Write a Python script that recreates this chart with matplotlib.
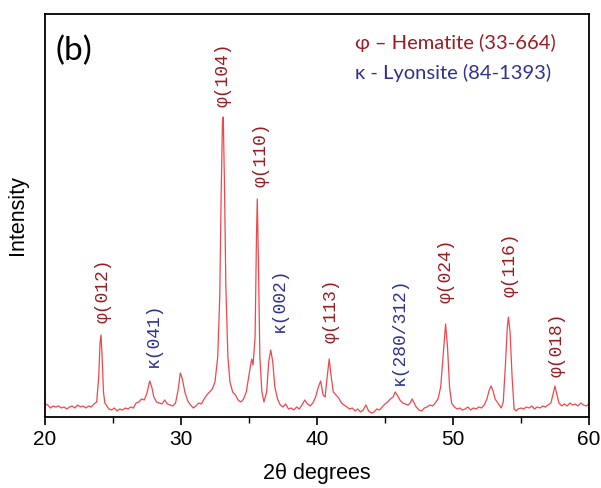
import matplotlib.pyplot as plt
from matplotlib.ticker import MultipleLocator

# XRD pattern (2theta in degrees, intensity in arbitrary units)
two_theta = [20.0, 20.2, 20.4, 20.6, 20.8, 21.0, 21.2, 21.4, 21.6, 21.8,
             22.0, 22.2, 22.4, 22.6, 22.8, 23.0, 23.2, 23.4, 23.6, 23.8,
             23.95, 24.05, 24.12, 24.2, 24.3, 24.4, 24.5, 24.7, 24.9, 25.1,
             25.3, 25.5, 25.7, 25.9, 26.1, 26.3, 26.5, 26.7, 26.9, 27.1,
             27.3, 27.5, 27.7, 27.85, 28.0, 28.2, 28.4, 28.6, 28.8, 29.0,
             29.2, 29.4, 29.6, 29.8, 29.95, 30.1, 30.3, 30.5, 30.7, 30.9,
             31.1, 31.3, 31.5, 31.7, 31.9, 32.1, 32.3, 32.5, 32.7, 32.85,
             32.95, 33.05, 33.11, 33.2, 33.3, 33.45, 33.6, 33.8, 34.0, 34.2,
             34.4, 34.6, 34.8, 35.0, 35.2, 35.3, 35.45, 35.55, 35.61, 35.7,
             35.8, 35.95, 36.1, 36.3, 36.45, 36.6, 36.75, 36.9, 37.1, 37.3,
             37.5, 37.7, 37.9, 38.1, 38.3, 38.5, 38.7, 38.9, 39.1, 39.3,
             39.5, 39.7, 39.9, 40.1, 40.27, 40.45, 40.6, 40.75, 40.9, 41.05,
             41.2, 41.4, 41.6, 41.8, 42.0, 42.2, 42.4, 42.6, 42.8, 43.0,
             43.2, 43.4, 43.6, 43.8, 44.0, 44.2, 44.4, 44.6, 44.8, 45.0,
             45.2, 45.4, 45.6, 45.75, 45.9, 46.1, 46.3, 46.5, 46.7, 46.85,
             47.0, 47.15, 47.3, 47.5, 47.7, 47.9, 48.1, 48.3, 48.5, 48.7,
             48.9, 49.1, 49.3, 49.46, 49.6, 49.75, 49.9, 50.1, 50.3, 50.5,
             50.7, 50.9, 51.1, 51.3, 51.5, 51.7, 51.9, 52.1, 52.3, 52.5,
             52.65, 52.8, 52.95, 53.1, 53.25, 53.4, 53.55, 53.7, 53.85, 54.0,
             54.08, 54.2, 54.35, 54.5, 54.65, 54.8, 55.0, 55.2, 55.4, 55.6,
             55.8, 56.0, 56.2, 56.4, 56.6, 56.8, 57.0, 57.2, 57.35, 57.5,
             57.65, 57.8, 58.0, 58.2, 58.4, 58.6, 58.8, 59.0, 59.2, 59.4,
             59.6, 59.8, 60.0]
intensity = [13, 12, 9, 11, 10, 11, 9, 10, 8, 10,
             11, 9, 12, 10, 11, 9, 11, 10, 13, 15,
             40, 75, 82, 60, 25, 14, 12, 8, 7, 9,
             6, 8, 7, 9, 8, 10, 9, 14, 15, 18,
             17, 24, 36, 30, 20, 15, 14, 13, 17, 13,
             12, 11, 14, 28, 44, 38, 24, 16, 12, 9,
             11, 14, 13, 18, 22, 25, 28, 35, 60, 120,
             220, 295, 300, 230, 130, 60, 35, 25, 22, 17,
             15, 18, 25, 42, 58, 52, 80, 180, 218, 150,
             60, 25, 15, 25, 55, 67, 55, 30, 18, 12,
             10, 13, 8, 9, 7, 10, 8, 12, 17, 13,
             11, 14, 20, 30, 36, 22, 20, 40, 58, 40,
             25, 22, 19, 14, 12, 10, 8, 9, 6, 8,
             5, 7, 12, 6, 4, 5, 8, 7, 10, 13,
             15, 18, 20, 25, 22, 17, 14, 13, 12, 14,
             18, 14, 10, 7, 6, 9, 10, 12, 11, 14,
             18, 30, 65, 93, 70, 30, 14, 10, 8, 9,
             7, 8, 10, 7, 9, 8, 10, 9, 12, 18,
             26, 31, 26, 18, 15, 12, 9, 15, 50, 90,
             100, 85, 40, 8, 6, 8, 9, 8, 10, 9,
             11, 8, 10, 9, 11, 10, 12, 14, 22, 31,
             22, 14, 11, 13, 11, 14, 12, 13, 11, 14,
             12, 11, 13]

# peak labels: text, position (2theta, bottom of text), phase
peak_labels = ["φ(012)", "κ(041)", "φ(104)", "φ(110)", "κ(002)",
               "φ(113)", "κ(280/312)", "φ(024)", "φ(116)", "φ(018)"]
label_x = [24.3, 27.95, 33.1, 35.85, 37.2, 41.06, 46.07, 49.5, 54.16, 57.68]
label_y = [94, 50, 310, 230, 85, 74, 32, 114, 120, 40]
label_phase = ["h", "l", "h", "h", "l", "h", "l", "h", "h", "h"]

red_txt = "#9a1c22"
blue_txt = "#2e3192"

fig = plt.figure(figsize=(6.01, 4.88), dpi=100)
ax = fig.add_axes([0.0749, 0.1455, 0.905, 0.826])

ax.plot(two_theta, intensity, color="#f0474c", linewidth=0.9)

for txt, x, y, ph in zip(peak_labels, label_x, label_y, label_phase):
    col = red_txt if ph == "h" else blue_txt
    ax.text(x, y, txt, rotation=90, ha="center", va="bottom", color=col,
            fontsize=13, family=["Liberation Mono", "DejaVu Sans Mono"])

#phase key
ax.text(42.8, 374, "φ – Hematite (33-664)", color=red_txt, fontsize=14.5,
        ha="left", va="center", family=["Lato", "DejaVu Sans"])
ax.text(42.8, 344, "κ - Lyonsite (84-1393)", color=blue_txt, fontsize=14.5,
        ha="left", va="center", family=["Lato", "DejaVu Sans"])

ax.text(0.053, 0.908, "(b)", transform=ax.transAxes, fontsize=24,
        ha="center", va="center", family=["Lato", "DejaVu Sans"])

ax.set_xlim(20, 60)
ax.set_ylim(0, 403)
ax.xaxis.set_major_locator(MultipleLocator(10))
ax.xaxis.set_minor_locator(MultipleLocator(5))
ax.set_yticks([])
ax.tick_params(axis="x", which="major", length=6, width=1.2, labelsize=15,
               direction="out")
ax.tick_params(axis="x", which="minor", length=4, width=1.0, direction="out")
for lab in ax.get_xticklabels():
    lab.set_family("Liberation Sans")
for sp in ax.spines.values():
    sp.set_linewidth(1.3)

ax.set_xlabel("2θ degrees", fontsize=15.5, family="Liberation Sans", labelpad=10)
ax.set_ylabel("Intensity", fontsize=15.5, family="Liberation Sans", labelpad=12)

fig.savefig("out.png", dpi=100)
